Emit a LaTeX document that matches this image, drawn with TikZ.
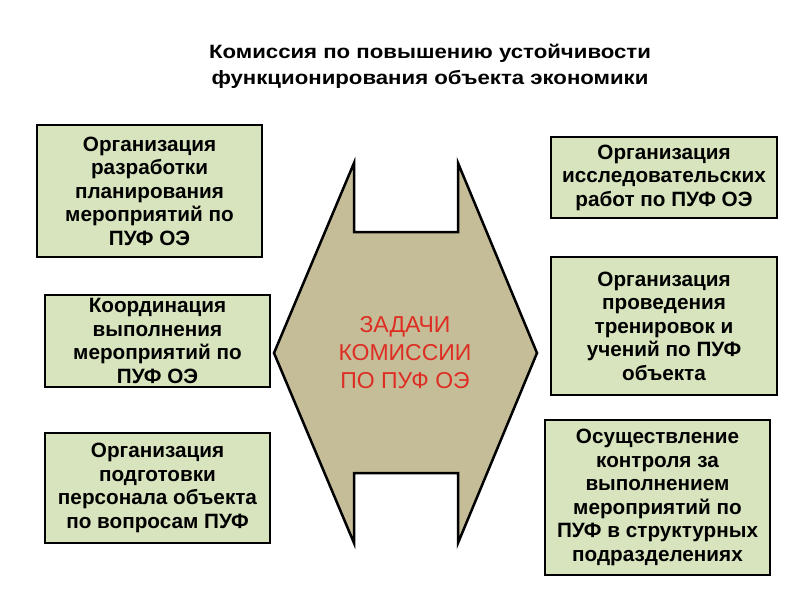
\documentclass[tikz,border=0pt]{standalone}
\usepackage{fontspec}
\setmainfont{Liberation Sans}
\newfontfamily\titlefont[FakeStretch=1.15]{Liberation Sans}
\usepackage{xcolor}
\usetikzlibrary{positioning}

\definecolor{boxgreen}{RGB}{215,228,189}
\definecolor{hextan}{RGB}{196,189,151}
\definecolor{taskred}{RGB}{222,45,35}

\tikzset{
  taskbox/.style={draw=black, line width=2pt, fill=boxgreen, align=center,
    inner sep=2pt, font=\fontsize{20.7}{23.5}\selectfont\bfseries},
}

\begin{document}
\begin{tikzpicture}[x=1pt,y=1pt,yscale=-1,xscale=1]
            \useasboundingbox (0,0) rectangle (800,600);
            % title
            \node (title) at (430,66) [align=center, font=\titlefont\fontsize{19.3}{26}\selectfont\bfseries]
                {Комиссия по повышению устойчивости\\функционирования объекта экономики};
            % central figure
            \draw [line width=2.5pt, fill=hextan, line join=miter]
                (354,163) -- (354,232) -- (458,232) -- (458,163) -- (537,353) -- (458,543)
                -- (458,473) -- (354,473) -- (354,543) -- (274,353) -- cycle;
            \node (tasks) at (405,353) [align=center, text=taskred, font=\fontsize{23}{28}\selectfont]
                {ЗАДАЧИ\\КОМИССИИ\\ПО ПУФ ОЭ};
            % left column
            \node (left1) at (149.5,191) [taskbox, minimum width=225, minimum height=132]
                {Организация\\разработки\\планирования\\мероприятий по\\ПУФ ОЭ};
            \node (left2) at (157.5,341) [taskbox, minimum width=225, minimum height=92]
                {Координация\\выполнения\\мероприятий по\\ПУФ ОЭ};
            \node (left3) at (157.5,488) [taskbox, minimum width=225, minimum height=110]
                {Организация\\подготовки\\персонала объекта\\по вопросам ПУФ};
            % right column
            \node (right1) at (664,177.5) [taskbox, minimum width=226, minimum height=81]
                {Организация\\исследовательских\\работ по ПУФ ОЭ};
            \node (right2) at (664,326) [taskbox, minimum width=226, minimum height=138]
                {Организация\\проведения\\тренировок и\\учений по ПУФ\\объекта};
            \node (right3) at (657.5,497.5) [taskbox, minimum width=225, minimum height=155]
                {Осуществление\\контроля за\\выполнением\\мероприятий по\\ПУФ в структурных\\подразделениях};
        \end{tikzpicture}
\end{document}
